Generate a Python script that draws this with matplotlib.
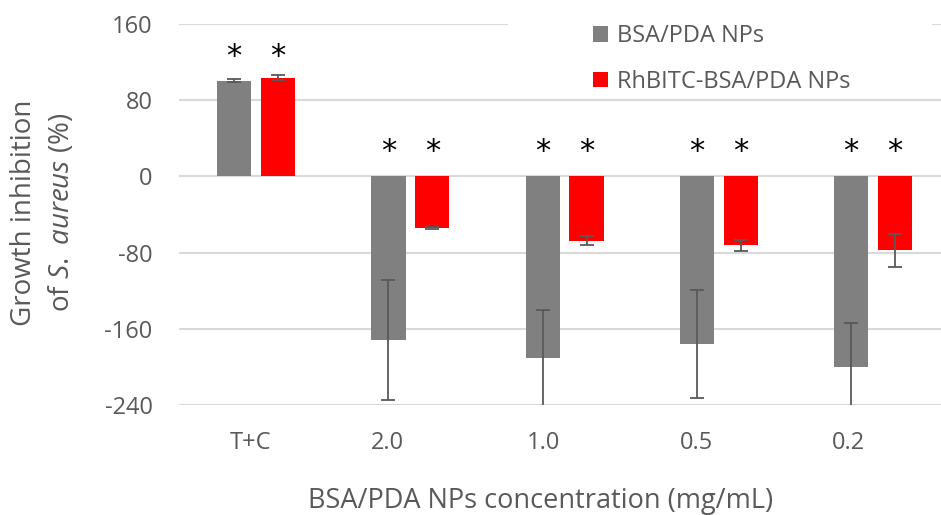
import matplotlib
matplotlib.use("Agg")
import matplotlib.pyplot as plt
import numpy as np

# data
categories = ["T+C", "2.0", "1.0", "0.5", "0.2"]
bsa_pda = [100.6, -172, -191, -176, -200.5]
bsa_pda_err = [2, 63, 51, 57, 47]
rh_bsa_pda = [103.8, -54.5, -67.4, -72.3, -77.6]
rh_bsa_pda_err = [2.4, 1, 5, 5.7, 17]
star_y = [126, 26, 26, 26, 26]
yticks = [160, 80, 0, -80, -160, -240]
ytick_labels = ["160", "80", "0", "-80", "-160", "-240"]

# layout
label_shift = [-0.036, -0.150, -0.140, -0.146, -0.160]
bar_w = 0.222
offset = 0.142
TXT = "#595959"

plt.rcParams["font.family"] = ["Open Sans", "DejaVu Sans"]
plt.rcParams["mathtext.fontset"] = "custom"
plt.rcParams["mathtext.it"] = "Open Sans:italic"
plt.rcParams["mathtext.rm"] = "Open Sans"

fig = plt.figure(figsize=(9.41, 5.15), dpi=100)
ax = fig.add_axes([179 / 941, 110 / 515, 1 - 179 / 941, (405 - 24) / 515])

x = np.arange(len(categories))
ax.bar(x - offset, bsa_pda, bar_w, color="#808080", label="BSA/PDA NPs", zorder=2)
ax.bar(x + offset, rh_bsa_pda, bar_w, color="#FF0000", label="RhBITC-BSA/PDA NPs", zorder=2)
ax.errorbar(x - offset, bsa_pda, yerr=bsa_pda_err, fmt="none", ecolor="#595959",
            elinewidth=1.3, capsize=5, capthick=1.3, zorder=3)
ax.errorbar(x + offset, rh_bsa_pda, yerr=rh_bsa_pda_err, fmt="none", ecolor="#595959",
            elinewidth=1.3, capsize=5, capthick=1.3, zorder=3)

for i, y in enumerate(star_y):
    for dx in (-offset, offset):
        ax.text(i + dx, y, "*", ha="center", va="center", fontsize=22,
                color="black", family="DejaVu Sans")

ax.set_xlim(-0.5, 4.44)
ax.set_ylim(-240, 160)
ax.set_yticks(yticks)
ax.set_yticklabels(ytick_labels)
ax.set_xticks(x + np.array(label_shift))
ax.set_xticklabels(categories)
ax.tick_params(length=0, labelsize=17, colors=TXT)
ax.tick_params(axis="x", pad=19)
ax.tick_params(axis="y", pad=19)
ax.yaxis.grid(True, color="#D9D9D9", linewidth=1.5, zorder=0)
ax.set_axisbelow(True)
for s in ax.spines.values():
    s.set_visible(False)

# white area behind legend hides the top gridline like the original
bg = plt.Rectangle(((508 - 179) / (941 - 179), (405 - 95) / 381), (932 - 508) / (941 - 179),
                   (95 - 10) / 381, transform=ax.transAxes, facecolor="white",
                   edgecolor="none", zorder=1, clip_on=False)
ax.add_patch(bg)

leg = ax.legend(loc="upper left", bbox_to_anchor=(572 / 941, 512 / 515),
                bbox_transform=fig.transFigure, frameon=False, fontsize=17,
                handlelength=0.62, handleheight=0.62, handletextpad=0.4,
                labelspacing=0.9)
for t in leg.get_texts():
    t.set_color(TXT)

# two-line y label, placed line by line
fig.text(24 / 941, 1 - 213 / 515, "Growth inhibition", rotation=90,
         ha="center", va="center", fontsize=20, color=TXT)
fig.text(62 / 941, 1 - 212 / 515, "of $\\it{S.\\ aureus}$ (%)", rotation=90,
         ha="center", va="center", fontsize=20, color=TXT)
fig.text(541 / 941, 1 - 508 / 515, "BSA/PDA NPs concentration (mg/mL)",
         ha="center", va="baseline", fontsize=19.5, color=TXT)

fig.savefig("out.png", dpi=100)
